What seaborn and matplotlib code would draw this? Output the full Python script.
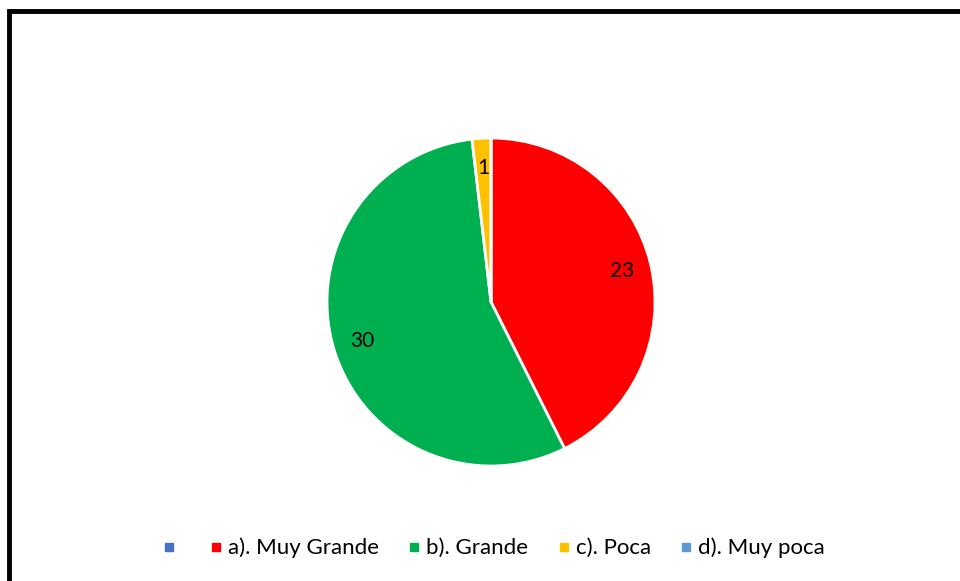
import numpy as np
import matplotlib
matplotlib.use('Agg')
import matplotlib.pyplot as plt
import seaborn as sns
from matplotlib.lines import Line2D
from matplotlib.patches import Rectangle

# ---------------- data ------------------#
categories = ['', 'a). Muy Grande', 'b). Grande', 'c). Poca', 'd). Muy poca']
values = [0, 23, 30, 1, 0]
colors = ['#4472C4', '#FF0000', '#00B050', '#FFC000', '#5B9BD5']

sns.set_theme(style='white')
plt.rcParams['font.family'] = ['Lato', 'DejaVu Sans']
plt.rcParams['text.color'] = 'black'

total = sum(values)

def show_value(pct):
    v = pct * total / 100.
    if v < 0.5:
        return ''
    return '{:.0f}'.format(v)

fig = plt.figure(figsize=(9.6, 5.81), dpi=100)
# pie axes: center ~ (491, 302) px, radius ~164 px
ax = fig.add_axes([(491 - 164) / 960, 1 - (302 + 164) / 581, 328 / 960, 328 / 581])

wedges, texts, autotexts = ax.pie(values, colors=colors, startangle=90, counterclock=False,
                                  autopct=show_value, pctdistance=0.82,
                                  wedgeprops=dict(edgecolor='white', linewidth=2),
                                  textprops=dict(fontsize=15, color='black'))
ax.set_aspect('equal')
ax.set_xlim(-1, 1)
ax.set_ylim(-1, 1)
ax.axis('off')

# ---------------- legend ------------------#
handles = [Line2D([0], [0], marker='s', linestyle='none', markersize=6,
                  markerfacecolor=c, markeredgecolor=c) for c in colors]
leg = fig.legend(handles, categories, loc='center', bbox_to_anchor=(494 / 960, 1 - 548 / 581),
                 ncol=5, frameon=False, fontsize=16, handlelength=0.5, handletextpad=0.3,
                 columnspacing=1.33)
for t in leg.get_texts():
    t.set_color('black')

# chart frame (cropped on right/bottom)
fig.add_artist(Rectangle((8.5 / 960, -0.2), 2, 1.2 - 10.5 / 581, transform=fig.transFigure,
                         fill=False, edgecolor='black', linewidth=3.5, clip_on=False))

fig.savefig('out.png', dpi=100)
